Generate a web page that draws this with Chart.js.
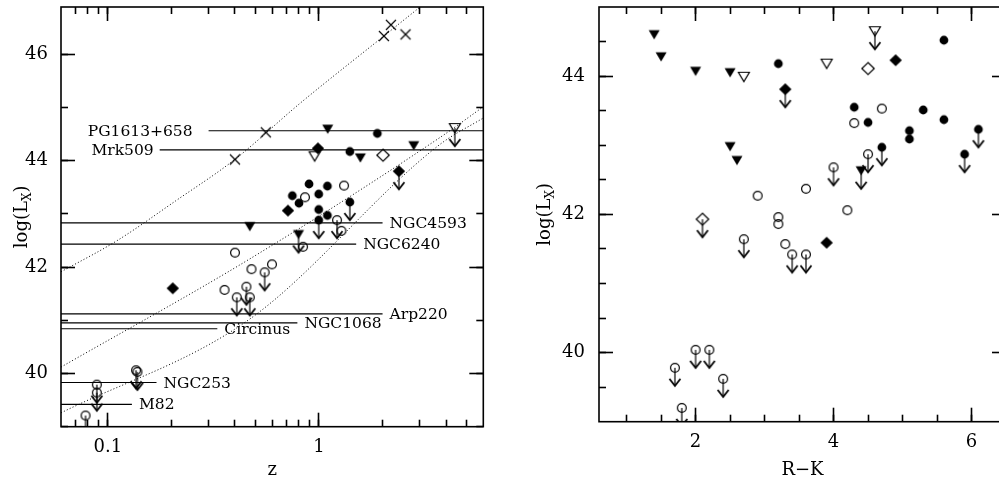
<!DOCTYPE html>
<html>
<head>
<meta charset="utf-8">
<script src="https://cdn.jsdelivr.net/npm/chart.js@4.4.1/dist/chart.umd.min.js"></script>
<style>
  html, body { margin: 0; padding: 0; background: #fff; overflow: hidden; width: 999px; height: 477px; }
  #left { position: absolute; left: 0; top: 0; }
  #right { position: absolute; left: 500px; top: 0; }
</style>
</head>
<body>
<canvas id="left" width="500" height="477"></canvas>
<canvas id="right" width="530" height="477"></canvas>
<script>
// ---- left panel: log(Lx) against z, points are [z, log Lx] ----
const lCross = [[0.40, 44.02], [0.56, 44.53], [2.03, 46.34], [2.19, 46.55], [2.57, 46.37]];
const lFilledTri = [[1.10, 44.59], [1.57, 44.05], [2.81, 44.28], [0.47, 42.76]];
const lFilledTriLim = [[0.80, 42.61]];
const lOpenTri = [[0.954, 44.08]];
const lOpenTriLim = [[4.40, 44.61]];
const lFilledCircle = [[1.89, 44.51], [1.40, 44.17], [0.897, 43.56], [0.748, 43.34], [0.804, 43.20],
  [0.997, 43.37], [1.096, 43.52], [0.997, 43.08], [1.096, 42.97]];
const lFilledCircleLim = [[1.40, 43.22], [0.997, 42.88]];
const lOpenCircle = [[0.858, 43.31], [1.314, 43.53], [1.277, 42.68], [0.840, 42.38], [0.400, 42.27],
  [0.357, 41.57], [0.479, 41.96], [0.599, 42.05]];
const lOpenCircleLim = [[1.217, 42.88], [0.408, 41.43], [0.453, 41.63], [0.470, 41.43], [0.553, 41.90],
  [0.0887, 39.79], [0.0887, 39.64], [0.136, 40.06], [0.138, 40.03], [0.0784, 39.21]];
const lFilledDiamond = [[0.989, 44.23], [0.713, 43.06], [0.203, 41.60]];
const lFilledDiamondLim = [[2.39, 43.80]];
const lOpenDiamond = [[2.01, 44.10]];

// local objects drawn as horizontal lines
const objNames = ['PG1613+658', 'Mrk509', 'NGC4593', 'NGC6240', 'Arp220', 'NGC1068', 'Circinus', 'NGC253', 'M82'];
const objL = [44.56, 44.20, 42.83, 42.43, 41.12, 40.95, 40.84, 39.83, 39.42];
const objZFrom = [0.30, 0.176, 0.06, 0.06, 0.06, 0.06, 0.06, 0.06, 0.06];
const objZTo = [6, 6, 2.0, 1.5, 2.0, 0.79, 0.33, 0.17, 0.13];
const objLabelLeft = [true, true, false, false, false, false, false, false, false];

// dotted curves
const curveA = [[0.06, 41.91], [0.110, 42.49], [0.209, 43.24], [0.399, 44.02], [0.810, 45.07],
  [2.03, 46.34], [3.0, 46.88]];
const curveB = [[0.06, 40.12], [0.469, 42.15], [3.73, 44.43], [6, 45.01]];
const curveC = [[0.06, 39.26], [0.469, 41.02], [3.73, 44.30], [6, 44.80]];

const zTicks = [0.07, 0.08, 0.09, 0.1, 0.2, 0.3, 0.4, 0.5, 0.6, 0.7, 0.8, 0.9, 1, 2, 3, 4, 5];
const zMajor = [0.1, 1];
const lTicks = [39, 40, 41, 42, 43, 44, 45, 46];
const lMajor = [40, 42, 44, 46];

// ---- right panel: log(Lx) against R-K, points are [R-K, log Lx] ----
const rFilledTri = [[1.4, 44.60], [1.5, 44.28], [2.0, 44.07], [2.5, 44.05], [2.5, 42.98], [2.6, 42.78]];
const rFilledTriLim = [[4.4, 42.63]];
const rOpenTri = [[2.7, 43.99], [3.9, 44.18]];
const rOpenTriLim = [[4.6, 44.65]];
const rFilledCircle = [[3.2, 44.18], [5.6, 44.52], [4.3, 43.55], [4.5, 43.33], [5.3, 43.51], [5.6, 43.37],
  [5.1, 43.21], [5.1, 43.09]];
const rFilledCircleLim = [[6.1, 43.23], [5.9, 42.87], [4.7, 42.97]];
const rOpenCircle = [[4.7, 43.53], [4.3, 43.32], [3.6, 42.37], [2.9, 42.27], [4.2, 42.06], [3.2, 41.96],
  [3.2, 41.86], [3.3, 41.57]];
const rOpenCircleLim = [[4.5, 42.87], [4.0, 42.68], [2.7, 41.64], [3.4, 41.42], [3.6, 41.42], [1.7, 39.78],
  [2.0, 40.04], [2.2, 40.04], [2.4, 39.62], [1.8, 39.20]];
const rFilledDiamond = [[4.9, 44.23], [3.9, 41.59]];
const rFilledDiamondLim = [[3.3, 43.81]];
const rOpenDiamond = [[4.5, 44.11]];
const rOpenDiamondLim = [[2.1, 41.93]];

const rkTicks = [1, 1.5, 2, 2.5, 3, 3.5, 4, 4.5, 5, 5.5, 6];
const rkMajor = [2, 4, 6];
const rlTicks = [39.5, 40, 40.5, 41, 41.5, 42, 42.5, 43, 43.5, 44, 44.5];
const rlMajor = [40, 42, 44];

const SERIF = '"DejaVu Serif", "Liberation Serif", serif';
Chart.defaults.font.family = SERIF;
Chart.defaults.font.size = 18;
Chart.defaults.color = '#000';

// symbol images; upper limits get a down arrow below the symbol
function marker(shape, filled, limit) {
  const c = document.createElement('canvas');
  const w = 16, h = limit ? 48 : 16;
  c.width = w; c.height = h;
  const g = c.getContext('2d');
  const cx = w / 2, cy = h / 2;
  g.strokeStyle = '#000'; g.fillStyle = '#000'; g.lineWidth = 1.2;
  if (limit) {
    g.beginPath(); g.moveTo(cx, cy); g.lineTo(cx, cy + 17.5); g.stroke();
    g.lineWidth = 1.8;
    g.beginPath(); g.moveTo(cx - 5.5, cy + 11); g.lineTo(cx, cy + 18); g.lineTo(cx + 5.5, cy + 11); g.stroke();
    g.lineWidth = 1.2;
  }
  g.beginPath();
  if (shape === 'circle') g.arc(cx, cy, 4.4, 0, 2 * Math.PI);
  else if (shape === 'tri') { g.moveTo(cx - 5.5, cy - 4.5); g.lineTo(cx + 5.5, cy - 4.5); g.lineTo(cx, cy + 4.8); g.closePath(); }
  else if (shape === 'diamond') { g.moveTo(cx, cy - 6); g.lineTo(cx + 6.2, cy); g.lineTo(cx, cy + 6); g.lineTo(cx - 6.2, cy); g.closePath(); }
  else if (shape === 'cross') { g.moveTo(cx - 5, cy - 5); g.lineTo(cx + 5, cy + 5); g.moveTo(cx + 5, cy - 5); g.lineTo(cx - 5, cy + 5); }
  if (filled) g.fill(); else g.stroke();
  return c;
}

function pts(arr) { return arr.map(p => ({ x: p[0], y: p[1] })); }
function sym(arr, shape, filled, limit) {
  return { type: 'scatter', data: pts(arr), pointStyle: marker(shape, filled, limit), pointRadius: 6, order: 0 };
}
function fixedTicks(values) {
  return scale => { scale.ticks = values.map(v => ({ value: v })); };
}
// no extra room for half labels at the ends, the plot box is fixed
function noPad(scale) {
  scale.paddingTop = 0; scale.paddingBottom = 0; scale.paddingLeft = 0; scale.paddingRight = 0;
}
// tick marks pointing into the plot (negative tick length)
function tickGrid(len) {
  return { display: true, drawOnChartArea: false, drawTicks: true, tickLength: -len, tickWidth: 1.6, tickColor: '#000' };
}
// zero-size axis that only draws inward tick marks on one side of the box
function markAxis(position, type, min, max, values, len) {
  const horiz = position === 'top' || position === 'bottom';
  return {
    axis: horiz ? 'x' : 'y', position, type, min, max, weight: 0,
    afterBuildTicks: fixedTicks(values),
    afterFit: s => { if (horiz) s.height = 0; else s.width = 0; noPad(s); },
    grid: tickGrid(len), border: { display: false },
    ticks: { display: false, autoSkip: false }
  };
}

// box frame and the axis titles
function framePlugin(cfg) {
  return {
    id: 'frame',
    afterDraw(chart) {
      const ctx = chart.ctx;
      const a = chart.chartArea;
      ctx.save();
      ctx.fillStyle = '#000';
      ctx.strokeStyle = '#000';
      ctx.lineWidth = 1.6;
      ctx.strokeRect(a.left, a.top, a.right - a.left, a.bottom - a.top);
      ctx.font = '18px ' + SERIF;
      ctx.textAlign = 'center';
      ctx.textBaseline = 'alphabetic';
      ctx.fillText(cfg.xTitle, (a.left + a.right) / 2, 475);
      ctx.translate(cfg.yTitleX, (a.top + a.bottom) / 2);
      ctx.rotate(-Math.PI / 2);
      const big = '18px ' + SERIF, small = '12px ' + SERIF;
      ctx.font = big; const w1 = ctx.measureText('log(L').width, w3 = ctx.measureText(')').width;
      ctx.font = small; const w2 = ctx.measureText('X').width;
      let x = -(w1 + w2 + w3) / 2;
      ctx.textAlign = 'left';
      ctx.font = big; ctx.fillText('log(L', x, 0); x += w1;
      ctx.font = small; ctx.fillText('X', x, 4); x += w2;
      ctx.font = big; ctx.fillText(')', x, 0);
      ctx.restore();
    }
  };
}

// names next to the horizontal lines
const namePlugin = {
  id: 'names',
  afterDatasetsDraw(chart) {
    const { ctx } = chart;
    const sx = chart.scales.x, sy = chart.scales.y;
    ctx.save();
    ctx.fillStyle = '#000';
    ctx.font = '15.5px ' + SERIF;
    ctx.textBaseline = 'middle';
    objNames.forEach((name, i) => {
      const py = sy.getPixelForValue(objL[i]) + 1;
      if (objLabelLeft[i]) {
        ctx.textAlign = 'right';
        const gap = i === 0 ? 16 : 6;
        ctx.fillText(name, sx.getPixelForValue(objZFrom[i]) - gap, py);
      } else {
        ctx.textAlign = 'left';
        ctx.fillText(name, sx.getPixelForValue(objZTo[i]) + 7, py);
      }
    });
    ctx.restore();
  }
};

const hLines = objNames.map((n, i) => ({
  type: 'line', data: [{ x: objZFrom[i], y: objL[i] }, { x: objZTo[i], y: objL[i] }],
  borderColor: '#000', borderWidth: 1.1, pointRadius: 0, order: 2
}));
const dotted = [curveA, curveB, curveC].map(c => ({
  type: 'line', data: pts(c), borderColor: '#000', borderWidth: 1, borderDash: [1, 2.2],
  pointRadius: 0, cubicInterpolationMode: 'monotone', order: 2
}));

new Chart(document.getElementById('left'), {
  type: 'scatter',
  data: {
    datasets: [
      ...hLines, ...dotted,
      sym(lCross, 'cross', false, false),
      sym(lFilledTri, 'tri', true, false),
      sym(lFilledTriLim, 'tri', true, true),
      sym(lOpenTri, 'tri', false, false),
      sym(lOpenTriLim, 'tri', false, true),
      sym(lFilledCircle, 'circle', true, false),
      sym(lFilledCircleLim, 'circle', true, true),
      sym(lOpenCircle, 'circle', false, false),
      sym(lOpenCircleLim, 'circle', false, true),
      sym(lFilledDiamond, 'diamond', true, false),
      sym(lFilledDiamondLim, 'diamond', true, true),
      sym(lOpenDiamond, 'diamond', false, false)
    ]
  },
  options: {
    responsive: false, animation: false, devicePixelRatio: 1,
    layout: { padding: { top: 5, right: 16.7, left: 0, bottom: 0 } },
    plugins: { legend: { display: false }, tooltip: { enabled: false } },
    scales: {
      x: {
        type: 'logarithmic', position: 'bottom', weight: 10, min: 0.06, max: 6,
        afterBuildTicks: fixedTicks(zTicks),
        afterFit: s => { s.height = 50.3; noPad(s); },
        grid: tickGrid(7), border: { display: false },
        ticks: { autoSkip: false, maxRotation: 0, padding: 17, callback: v => zMajor.includes(v) ? String(v) : '' }
      },
      y: {
        type: 'linear', position: 'left', weight: 10, min: 39, max: 46.885,
        afterBuildTicks: fixedTicks(lTicks),
        afterFit: s => { s.width = 61; noPad(s); },
        grid: tickGrid(7), border: { display: false },
        ticks: { autoSkip: false, padding: 20, callback: v => lMajor.includes(v) ? String(v) : '' }
      },
      xMajorMarks: markAxis('bottom', 'logarithmic', 0.06, 6, zMajor, 14),
      xTopMarks: markAxis('top', 'logarithmic', 0.06, 6, zTicks, 7),
      xTopMajorMarks: markAxis('top', 'logarithmic', 0.06, 6, zMajor, 14),
      yMajorMarks: markAxis('left', 'linear', 39, 46.885, lMajor, 14),
      yRightMarks: markAxis('right', 'linear', 39, 46.885, lTicks, 7),
      yRightMajorMarks: markAxis('right', 'linear', 39, 46.885, lMajor, 14)
    }
  },
  plugins: [framePlugin({ xTitle: 'z', yTitleX: 27 }), namePlugin]
});

new Chart(document.getElementById('right'), {
  type: 'scatter',
  data: {
    datasets: [
      sym(rFilledTri, 'tri', true, false),
      sym(rFilledTriLim, 'tri', true, true),
      sym(rOpenTri, 'tri', false, false),
      sym(rOpenTriLim, 'tri', false, true),
      sym(rFilledCircle, 'circle', true, false),
      sym(rFilledCircleLim, 'circle', true, true),
      sym(rOpenCircle, 'circle', false, false),
      sym(rOpenCircleLim, 'circle', false, true),
      sym(rFilledDiamond, 'diamond', true, false),
      sym(rFilledDiamondLim, 'diamond', true, true),
      sym(rOpenDiamond, 'diamond', false, false),
      sym(rOpenDiamondLim, 'diamond', false, true)
    ]
  },
  options: {
    responsive: false, animation: false, devicePixelRatio: 1,
    layout: { padding: { top: 6.7, right: 24, left: 0, bottom: 0 } },
    plugins: { legend: { display: false }, tooltip: { enabled: false } },
    scales: {
      x: {
        type: 'linear', position: 'bottom', weight: 10, min: 0.6, max: 6.5,
        afterBuildTicks: fixedTicks(rkTicks),
        afterFit: s => { s.height = 55.3; noPad(s); },
        grid: tickGrid(7), border: { display: false },
        ticks: { autoSkip: false, maxRotation: 0, padding: 17, callback: v => rkMajor.includes(v) ? String(v) : '' }
      },
      y: {
        type: 'linear', position: 'left', weight: 10, min: 39, max: 45,
        afterBuildTicks: fixedTicks(rlTicks),
        afterFit: s => { s.width = 99; noPad(s); },
        grid: tickGrid(7), border: { display: false },
        ticks: { autoSkip: false, padding: 21, callback: v => rlMajor.includes(v) ? String(v) : '' }
      },
      xMajorMarks: markAxis('bottom', 'linear', 0.6, 6.5, rkMajor, 14),
      xTopMarks: markAxis('top', 'linear', 0.6, 6.5, rkTicks, 7),
      xTopMajorMarks: markAxis('top', 'linear', 0.6, 6.5, rkMajor, 14),
      yMajorMarks: markAxis('left', 'linear', 39, 45, rlMajor, 14),
      yRightMarks: markAxis('right', 'linear', 39, 45, rlTicks, 7),
      yRightMajorMarks: markAxis('right', 'linear', 39, 45, rlMajor, 14)
    }
  },
  plugins: [framePlugin({ xTitle: 'R\u2212K', yTitleX: 50 })]
});
</script>
</body>
</html>
